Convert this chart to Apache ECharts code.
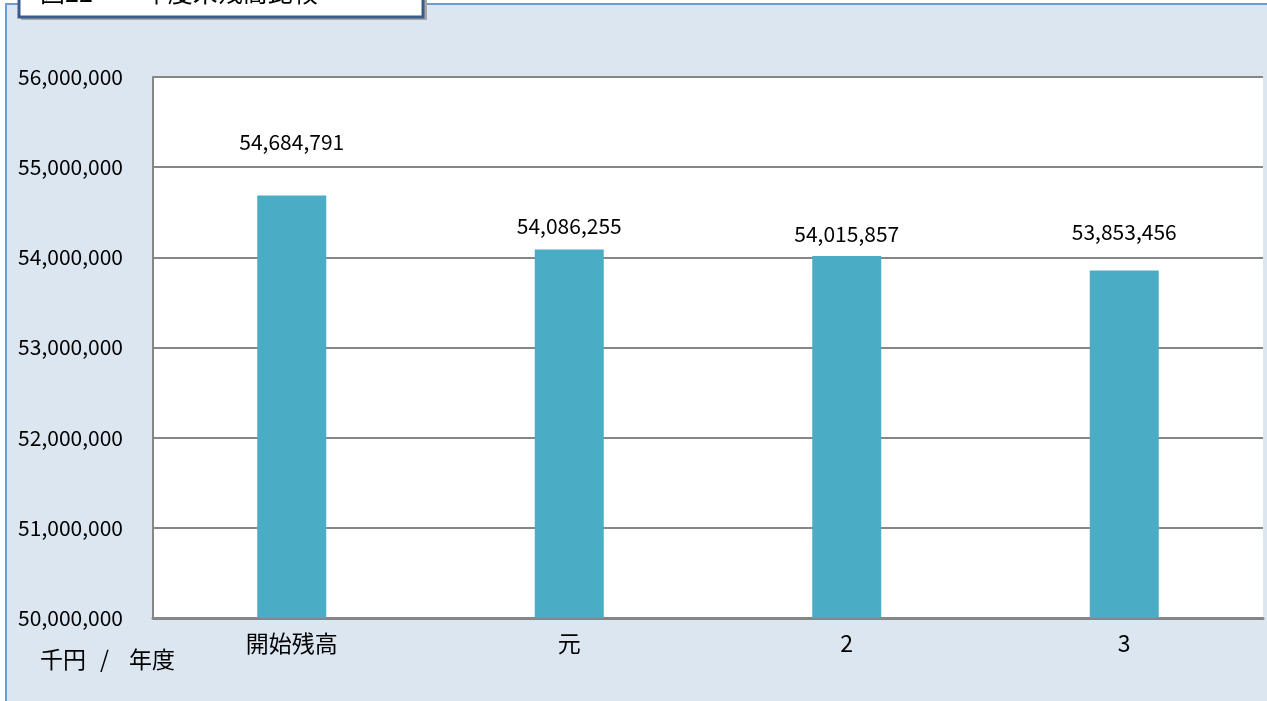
<!DOCTYPE html>
<html>
<head>
<meta charset="utf-8">
<title>年度末残高比較</title>
<script src="https://cdn.jsdelivr.net/npm/echarts@6/dist/echarts.min.js"></script>
<style>
  html, body { margin: 0; padding: 0; background: #fff; }
  #chart { width: 1267px; height: 701px; }
</style>
</head>
<body>
<div id="chart"></div>
<script>
// 年度末残高 (千円)
var categories = ['開始残高', '元', '2', '3']
var balances = [54684791, 54086255, 54015857, 53853456]
var yMin = 50000000
var yMax = 56000000
var yStep = 1000000

var jpFont = "'Noto Sans CJK JP', sans-serif"

// labels were placed by hand in the original, so nudge each one
var labelShift = [-43, -13, -11, -28]

function comma(v) {
  return String(v).replace(/\B(?=(\d{3})+(?!\d))/g, ',')
}

var chart = echarts.init(document.getElementById('chart'), null, { renderer: 'canvas' })

chart.setOption({
  backgroundColor: '#fff',
  animation: false,
  grid: {
    left: 153,
    right: 4,
    top: 77,
    bottom: 83,
    outerBoundsMode: 'none',
    containLabel: false,
    show: true,
    backgroundColor: '#fff',
    borderWidth: 0
  },
  xAxis: {
    type: 'category',
    data: categories,
    axisTick: { show: false },
    axisLine: { show: true, lineStyle: { color: '#868686', width: 3 } },
    axisLabel: {
      color: '#000',
      fontFamily: jpFont,
      fontSize: 23,
      margin: 14
    }
  },
  yAxis: {
    type: 'value',
    min: yMin,
    max: yMax,
    interval: yStep,
    axisTick: { show: false },
    axisLine: { show: true, lineStyle: { color: '#868686', width: 2 } },
    splitLine: { show: true, lineStyle: { color: '#868686', width: 2 } },
    axisLabel: {
      color: '#000',
      fontFamily: jpFont,
      fontSize: 21,
      margin: 30,
      formatter: function(v) { return comma(v) }
    }
  },
  series: [{
    type: 'bar',
    barWidth: 69,
    itemStyle: { color: '#4bacc6' },
    data: balances.map(function(v, i) {
      return {
        value: v,
        label: { offset: [0, labelShift[i]] }
      }
    }),
    label: {
      show: true,
      position: 'top',
      distance: 0,
      color: '#000',
      fontFamily: jpFont,
      fontSize: 21,
      formatter: function(p) { return comma(p.value) }
    }
  }],
  graphic: [
    {
      type: 'rect',
      z: -100,
      silent: true,
      shape: { x: 6, y: 4, width: 1262, height: 700 },
      style: { fill: '#dce6f1', stroke: '#6f9bd3', lineWidth: 2 }
    },
    {
      type: 'group',
      left: 40,
      top: 648,
      children: [
        { type: 'text', x: 0, y: 0, style: { text: '千円', font: '23px ' + jpFont, fill: '#000' } },
        { type: 'text', x: 60, y: 0, style: { text: '/', font: '23px ' + jpFont, fill: '#000' } },
        { type: 'text', x: 89, y: 0, style: { text: '年度', font: '23px ' + jpFont, fill: '#000' } }
      ]
    },
    {
      type: 'group',
      z: 100,
      children: [
        {
          type: 'rect',
          shape: { x: 21, y: -30, width: 406, height: 50 },
          style: { fill: '#a6a6a6' }
        },
        {
          type: 'rect',
          shape: { x: 19, y: -30, width: 404, height: 47 },
          style: { fill: '#fff', stroke: '#3a5c8c', lineWidth: 3 }
        },
        {
          type: 'text',
          x: 40,
          y: 5,
          style: {
            text: '図22　　年度末残高比較',
            font: '25px ' + jpFont,
            fill: '#000',
            textVerticalAlign: 'bottom'
          }
        }
      ]
    }
  ]
})
</script>
</body>
</html>
